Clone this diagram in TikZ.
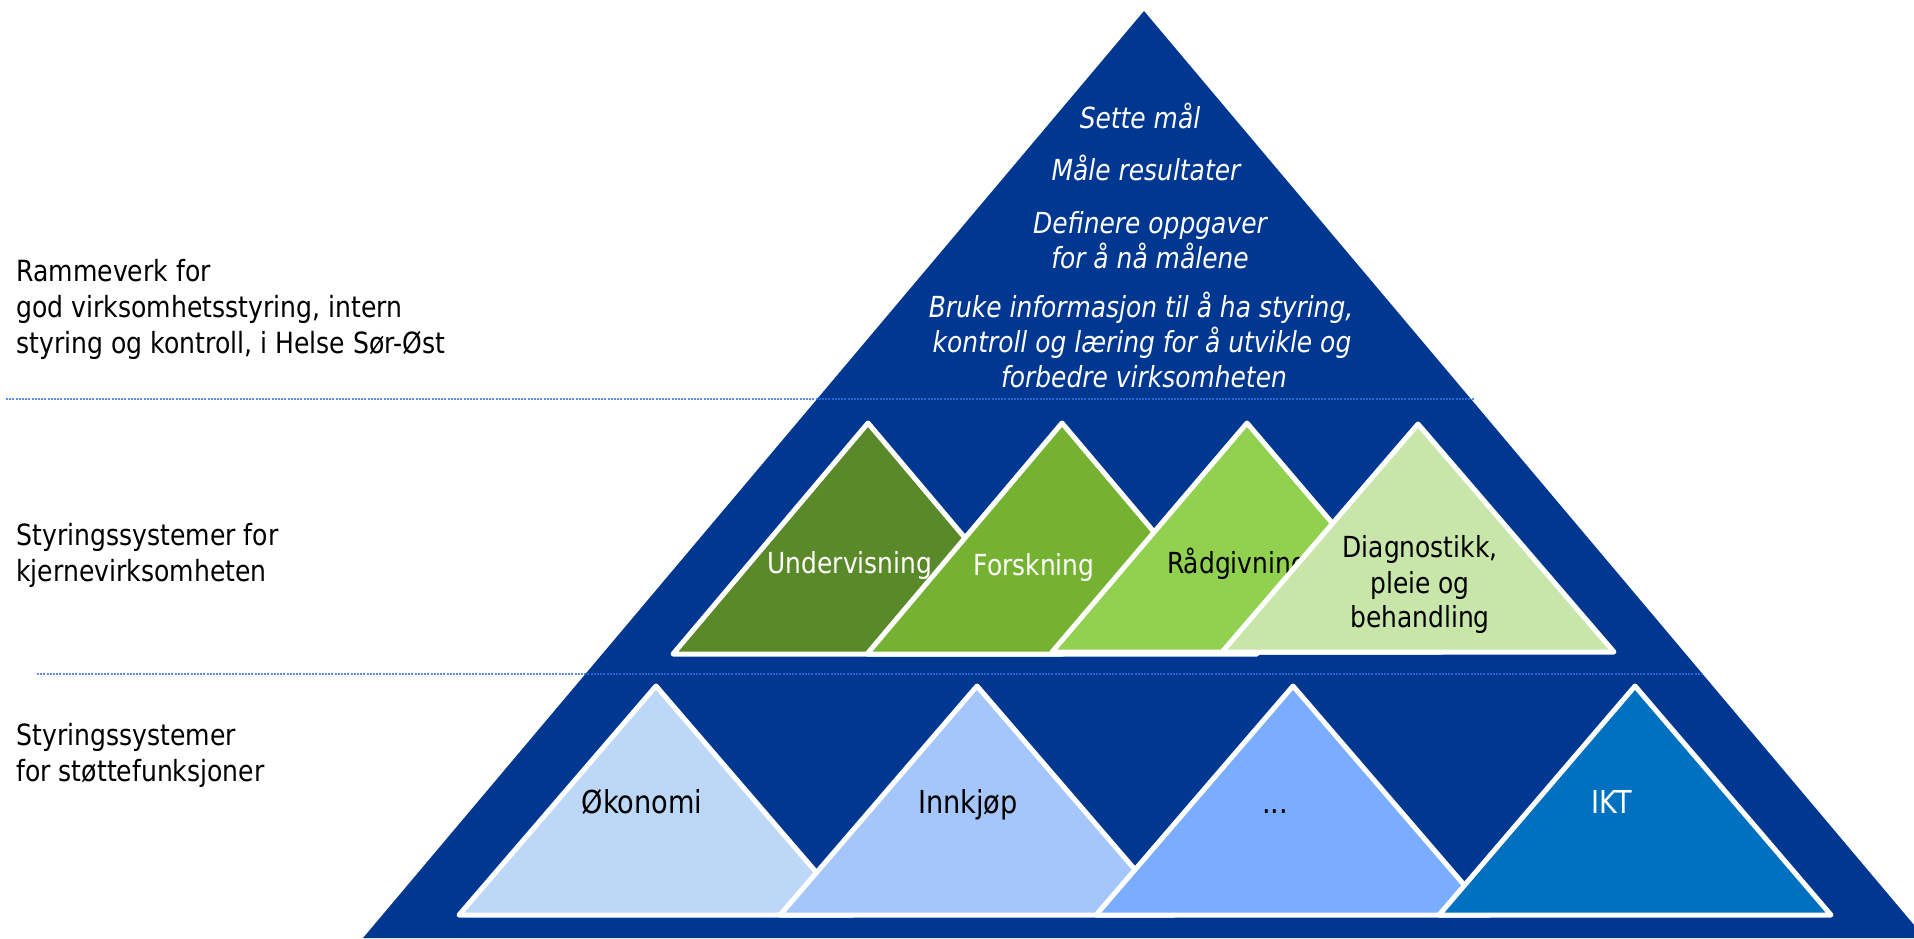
\documentclass[tikz,border=0pt]{standalone}
\usepackage{fontspec}
\setmainfont{DejaVu Sans}[FakeStretch=0.86]
\definecolor{hsoblue}{RGB}{0,56,145}
\definecolor{dotblue}{RGB}{50,115,225}
\definecolor{gA}{RGB}{90,137,41}
\definecolor{gB}{RGB}{118,178,50}
\definecolor{gC}{RGB}{146,208,80}
\definecolor{gD}{RGB}{201,230,170}
\definecolor{bA}{RGB}{189,215,247}
\definecolor{bB}{RGB}{164,198,250}
\definecolor{bC}{RGB}{122,172,255}
\definecolor{bD}{RGB}{0,112,192}
\tikzset{
  tri/.style={draw=white, line width=2.5pt, line join=round},
  lbl/.style={inner sep=0pt, anchor=base, font=\fontsize{14.5}{17}\selectfont},
  sidelbl/.style={lbl, anchor=base west, text=black, font=\fontsize{14.6}{17}\selectfont},
  toplbl/.style={lbl, text=white, font=\fontsize{14.5}{17}\selectfont\itshape},
  botlbl/.style={lbl, font=\fontsize{15.8}{18}\selectfont},
  dotline/.style={draw=dotblue, draw opacity=0.8, line width=0.75pt, dash pattern=on 1pt off 0.6pt}
}
\begin{document}
\begin{tikzpicture}[x=0.5pt,y=-0.5pt]
\useasboundingbox (0,0) rectangle (1914,938);
\clip (0,0) rectangle (1914,938);
% pyramid
\fill[hsoblue] (1144,11) -- (1925,938) -- (363,938) -- cycle;
% dotted separators
\coordinate (d1a) at (6,399);
\coordinate (d1b) at (1474,399);
\coordinate (d2a) at (37,674);
\coordinate (d2b) at (1703,674);
\draw[dotline] (d1a) -- (d1b);
\draw[dotline] (d2a) -- (d2b);
% top text
\node[toplbl] (t1) at (1140,128) {Sette mål};
\node[toplbl] (t2) at (1146,180) {Måle resultater};
\node[toplbl] (t3) at (1150,233) {Definere oppgaver};
\node[toplbl] (t4) at (1150,268) {for å nå målene};
\node[toplbl] (t5) at (1141,317) {Bruke informasjon til å ha styring,};
\node[toplbl] (t6) at (1142,352) {kontroll og læring for å utvikle og};
\node[toplbl] (t7) at (1144,387) {forbedre virksomheten};
% middle layer triangles
\fill[gA] (868,423) -- (1063,654) -- (673,654) -- cycle;
\draw[tri] (868,423) -- (1063,654) -- (673,654) -- cycle;
\node[lbl, text=white] (m1) at (850,573) {Undervisning};
\fill[gB] (1062,423) -- (1257,654) -- (867,654) -- cycle;
\draw[tri] (1062,423) -- (1257,654) -- (867,654) -- cycle;
\node[lbl, text=white] (m2) at (1034,575) {Forskning};
\fill[gC] (1247,423) -- (1442,652) -- (1052,652) -- cycle;
\draw[tri] (1247,423) -- (1442,652) -- (1052,652) -- cycle;
\node[lbl, text=black] (m3) at (1237,573) {Rådgivning};
\fill[gD] (1418,424) -- (1614,652) -- (1222,652) -- cycle;
\draw[tri] (1418,424) -- (1614,652) -- (1222,652) -- cycle;
\node[lbl, text=black] (m4a) at (1420,557) {Diagnostikk,};
\node[lbl, text=black] (m4b) at (1420,593) {pleie og};
\node[lbl, text=black] (m4c) at (1420,627) {behandling};
% bottom layer triangles
\fill[bA] (656,686) -- (853,915) -- (459,915) -- cycle;
\draw[tri] (656,686) -- (853,915) -- (459,915) -- cycle;
\node[botlbl, text=black] (b1) at (642,813) {Økonomi};
\fill[bB] (977,686) -- (1174,915) -- (780,915) -- cycle;
\draw[tri] (977,686) -- (1174,915) -- (780,915) -- cycle;
\node[botlbl, text=black] (b2) at (968,813) {Innkjøp};
\fill[bC] (1293,686) -- (1490,915) -- (1096,915) -- cycle;
\draw[tri] (1293,686) -- (1490,915) -- (1096,915) -- cycle;
\node[botlbl, text=black] (b3) at (1275,813) {...};
\fill[bD] (1635,686) -- (1831,915) -- (1439,915) -- cycle;
\draw[tri] (1635,686) -- (1831,915) -- (1439,915) -- cycle;
\node[botlbl, text=white] (b4) at (1612,813) {IKT};
% side labels
\node[sidelbl] (s1a) at (16,281) {Rammeverk for};
\node[sidelbl] (s1b) at (16,317) {god virksomhetsstyring, intern};
\node[sidelbl] (s1c) at (16,353) {styring og kontroll, i Helse Sør-Øst};
\node[sidelbl] (s2a) at (16,545) {Styringssystemer for};
\node[sidelbl] (s2b) at (16,581) {kjernevirksomheten};
\node[sidelbl] (s3a) at (16,745) {Styringssystemer};
\node[sidelbl] (s3b) at (16,781) {for støttefunksjoner};
\end{tikzpicture}
\end{document}
